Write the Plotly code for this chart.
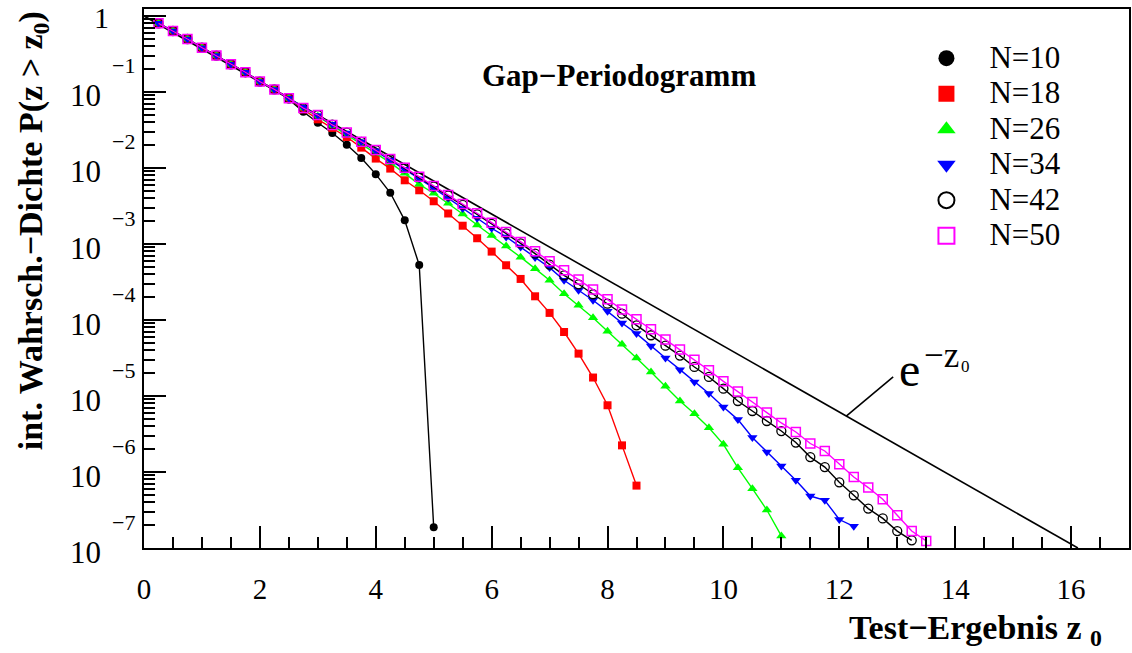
import plotly.graph_objects as go

# ---------------- data ----------------
Z = [0.25, 0.5, 0.75, 1.0, 1.25, 1.5, 1.75, 2.0, 2.25, 2.5,
     2.75, 3.0, 3.25, 3.5, 3.75, 4.0, 4.25, 4.5, 4.75, 5.0,
     5.25, 5.5, 5.75, 6.0, 6.25, 6.5, 6.75, 7.0, 7.25, 7.5,
     7.75, 8.0, 8.25, 8.5, 8.75, 9.0, 9.25, 9.5, 9.75, 10.0,
     10.25, 10.5, 10.75, 11.0, 11.25, 11.5, 11.75, 12.0, 12.25, 12.5,
     12.75, 13.0, 13.25, 13.5]

P_N10 = [0.80, 0.635, 0.498, 0.383, 0.301, 0.231, 0.182, 0.137, 0.108, 0.080,
         0.0550, 0.0394, 0.0289, 0.0202, 0.01355, 0.0083, 0.00472, 0.00205, 0.00053, 1.87e-7]

P_N18 = [0.80, 0.635, 0.498, 0.383, 0.301, 0.231, 0.182, 0.137, 0.108, 0.0826,
         0.0589, 0.0437, 0.0337, 0.0256, 0.01854, 0.0133, 0.00982, 0.00689, 0.00509, 0.00365,
         0.00252, 0.00174, 0.00119, 0.000794, 0.000525, 0.000347, 0.000205, 0.000124, 6.95e-5, 3.61e-5,
         1.75e-5, 7.55e-6, 2.24e-6, 6.62e-7]

P_N26 = [0.80, 0.635, 0.498, 0.383, 0.301, 0.231, 0.182, 0.137, 0.108, 0.0826,
         0.0617, 0.0479, 0.0363, 0.0275, 0.0209, 0.0158, 0.01175, 0.00851, 0.0061, 0.00465,
         0.00343, 0.00248, 0.00178, 0.00129, 0.000942, 0.000671, 0.000474, 0.000333, 0.000222, 0.000156,
         0.000107, 7.1e-5, 4.79e-5, 3.16e-5, 2.07e-5, 1.34e-5, 8.59e-6, 5.86e-6, 3.82e-6, 2.31e-6,
         1.135e-6, 6.03e-7, 3.16e-7, 1.44e-7]

P_N34 = [0.80, 0.635, 0.498, 0.383, 0.301, 0.231, 0.182, 0.137, 0.108, 0.0826,
         0.0631, 0.049, 0.0376, 0.0288, 0.0221, 0.0168, 0.01274, 0.00966, 0.00724, 0.00543,
         0.00403, 0.00294, 0.00218, 0.00161, 0.00124, 0.000914, 0.000662, 0.000489, 0.000333, 0.000246,
         0.000182, 0.00013, 9.14e-5, 6.62e-5, 4.55e-5, 3.16e-5, 2.22e-5, 1.53e-5, 1.08e-5, 7.16e-6,
         4.89e-6, 2.84e-6, 1.83e-6, 1.2e-6, 7.78e-7, 4.83e-7, 4.25e-7, 2.37e-7, 1.93e-7]

P_N42 = [0.80, 0.635, 0.498, 0.383, 0.301, 0.231, 0.182, 0.137, 0.108, 0.0826,
         0.0610, 0.0495, 0.0372, 0.0292, 0.0221, 0.0172, 0.01303, 0.0100, 0.00759, 0.00569,
         0.00432, 0.00327, 0.00245, 0.00184, 0.00138, 0.00102, 0.000748, 0.000536, 0.000387, 0.000295,
         0.000218, 0.000164, 0.000121, 8.51e-5, 6.3e-5, 4.6e-5, 3.4e-5, 2.41e-5, 1.78e-5, 1.25e-5,
         8.59e-6, 6.35e-6, 4.69e-6, 3.46e-6, 2.44e-6, 1.57e-6, 1.16e-6, 7.31e-7, 4.93e-7, 3.3e-7,
         2.45e-7, 1.67e-7, 1.26e-7]

P_N50 = [0.80, 0.635, 0.498, 0.383, 0.301, 0.231, 0.182, 0.137, 0.108, 0.0826,
         0.0614, 0.0498, 0.0368, 0.0292, 0.0222, 0.0173, 0.01312, 0.0101, 0.00769, 0.00579,
         0.00442, 0.00336, 0.00254, 0.00191, 0.00144, 0.00106, 0.000802, 0.000592, 0.000451, 0.00034,
         0.000251, 0.000187, 0.000137, 0.000102, 7.55e-5, 5.52e-5, 4.08e-5, 3.01e-5, 2.18e-5, 1.56e-5,
         1.15e-5, 8.34e-6, 6.05e-6, 4.42e-6, 3.36e-6, 2.37e-6, 1.89e-6, 1.26e-6, 8.59e-7, 6.24e-7,
         4.38e-7, 2.69e-7, 1.67e-7, 1.24e-7]

# reference curve e^{-z0}: straight line on log scale, end points
EXP_Z = [0.0, 16.118]
EXP_P = [1.0, 1.0e-7]

SERIES_NAMES = ["N=10", "N=18", "N=26", "N=34", "N=42", "N=50"]
DECADES = [-1, -2, -3, -4, -5, -6, -7]
X_TICKS = [0, 2, 4, 6, 8, 10, 12, 14, 16]

# ---------------- styling ----------------
FONT = "Liberation Serif"
styles = [
    dict(color="#000000", symbol="circle", size=8, fill="#000000", lw=0),
    dict(color="#ff0000", symbol="square", size=8, fill="#ff0000", lw=0),
    dict(color="#00ff00", symbol="triangle-up", size=9, fill="#00ff00", lw=0),
    dict(color="#0000ff", symbol="triangle-down", size=9, fill="#0000ff", lw=0),
    dict(color="#000000", symbol="circle-open", size=9, fill="#000000", lw=1.3),
    dict(color="#ff00ff", symbol="square-open", size=9, fill="#ff00ff", lw=1.5),
]
datas = [P_N10, P_N18, P_N26, P_N34, P_N42, P_N50]

fig = go.Figure()

fig.add_trace(go.Scatter(x=EXP_Z, y=EXP_P, mode="lines",
                         line=dict(color="black", width=1.6), showlegend=False,
                         hoverinfo="skip"))

for name, p, st in zip(SERIES_NAMES, datas, styles):
    fig.add_trace(go.Scatter(
        x=Z[:len(p)], y=p, mode="lines+markers", name=name, showlegend=False,
        line=dict(color=st["color"], width=1.4),
        marker=dict(symbol=st["symbol"], size=st["size"], color=st["fill"],
                    line=dict(color=st["color"], width=st["lw"])),
    ))

# legend-only entries (markers only, as in the reference)
for name, st in zip(SERIES_NAMES, styles):
    fig.add_trace(go.Scatter(
        x=[None], y=[None], mode="markers",
        name="<span style='font-size:31px'>" + name + "</span>", showlegend=True,
        marker=dict(symbol=st["symbol"], size=22, color=st["fill"],
                    line=dict(color=st["color"], width=2 if st["lw"] else 0)),
    ))

annotations = []
# y tick labels in ROOT style: "10" with a raised exponent
annotations.append(dict(text="1", x=-0.0436, xref="paper", y=0, yref="y",
                        yshift=-2, showarrow=False, xanchor="center", yanchor="middle",
                        font=dict(family=FONT, size=30, color="black")))
for d in DECADES:
    annotations.append(dict(text="10", x=-0.0598, xref="paper", y=d, yref="y",
                            yshift=-4, showarrow=False, xanchor="center", yanchor="middle",
                            font=dict(family=FONT, size=31, color="black")))
    annotations.append(dict(text="\u2212" + str(-d), x=-0.0344, xref="paper", y=d, yref="y",
                            yshift=26, showarrow=False, xanchor="left", yanchor="middle",
                            font=dict(family=FONT, size=22, color="black")))

# title inside the frame
annotations.append(dict(text="<b>Gap\u2212Periodogramm</b>", x=0.482, y=0.876,
                        xref="paper", yref="paper", showarrow=False,
                        xanchor="center", yanchor="middle",
                        font=dict(family=FONT, size=31, color="black")))
# axis titles
annotations.append(dict(text="<b>Test\u2212Ergebnis z <sub>0</sub></b>", x=0.975, y=-0.152,
                        xref="paper", yref="paper", showarrow=False,
                        xanchor="right", yanchor="middle",
                        font=dict(family=FONT, size=34, color="black")))
annotations.append(dict(text="<b>int. Wahrsch.\u2212Dichte P(z &gt; z<sub>0</sub>)</b>",
                        x=-0.1125, y=0.588, xref="paper", yref="paper", textangle=-90,
                        showarrow=False, xanchor="center", yanchor="middle",
                        font=dict(family=FONT, size=34, color="black")))
# e^{-z0} label
annotations.append(dict(text="e", x=(911 - 144) / 987, y=(548 - 369) / 539,
                        xref="paper", yref="paper", showarrow=False,
                        xanchor="center", yanchor="middle",
                        font=dict(family=FONT, size=48, color="black")))
annotations.append(dict(text="\u2212z", x=(943 - 144) / 987, y=(548 - 355) / 539,
                        xref="paper", yref="paper", showarrow=False,
                        xanchor="center", yanchor="middle",
                        font=dict(family=FONT, size=35, color="black")))
annotations.append(dict(text="0", x=(967 - 144) / 987, y=(548 - 366) / 539,
                        xref="paper", yref="paper", showarrow=False,
                        xanchor="center", yanchor="middle",
                        font=dict(family=FONT, size=17, color="black")))

shapes = [dict(type="line", xref="x", yref="y", x0=12.12, y0=5.45e-6, x1=12.93, y1=1.78e-5,
               line=dict(color="black", width=1.6))]

fig.update_layout(
    width=1132, height=653,
    margin=dict(l=144, r=1, t=9, b=105),
    paper_bgcolor="white", plot_bgcolor="white",
    font=dict(family=FONT, size=28, color="black"),
    showlegend=True,
    legend=dict(x=0.771, y=0.951, xanchor="left", yanchor="top",
                bgcolor="rgba(0,0,0,0)", borderwidth=0, itemwidth=76,
                font=dict(family=FONT, size=25, color="black"),
                itemclick=False, itemdoubleclick=False),
    annotations=annotations,
    shapes=shapes,
    xaxis=dict(range=[0, 17], tickvals=X_TICKS, ticks="inside", ticklen=22, tickwidth=1.6,
               tickcolor="black", showgrid=False, zeroline=False,
               showline=True, linewidth=2, linecolor="black", mirror=True,
               ticklabelstandoff=14,
               tickfont=dict(family=FONT, size=29, color="black"),
               minor=dict(ticks="inside", ticklen=11, tickwidth=1.6, tickcolor="black",
                          dtick=0.5, tick0=0, showgrid=False)),
    yaxis=dict(type="log", range=[-7, 0.092], dtick=1, tick0=0, ticks="inside", ticklen=22,
               tickwidth=1.6, tickcolor="black", showgrid=False, zeroline=False,
               showline=True, linewidth=2, linecolor="black", mirror=True,
               showticklabels=False,
               minor=dict(ticks="inside", ticklen=11, tickwidth=1.6, tickcolor="black",
                          dtick="D1", showgrid=False)),
)

fig.write_html("out.html")
